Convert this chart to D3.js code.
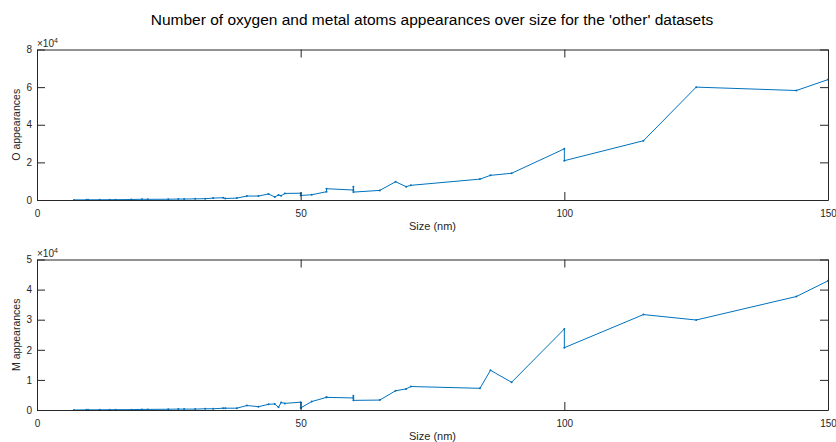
<!DOCTYPE html>
<html>
<head>
<meta charset="utf-8">
<script src="https://cdn.jsdelivr.net/npm/d3@7"></script>
<style>
  html, body { margin: 0; padding: 0; background: #fff; }
  svg { display: block; font-family: "Liberation Sans", Arial, Helvetica, sans-serif; }
</style>
</head>
<body>
<svg id="chart" width="836" height="442"></svg>
<script>
// Particle sizes (nm) of the 'other' datasets, in plotting order
const sizes = [7, 9.4, 9.7, 11.9, 13.8, 14.9, 17.9, 19.9, 21, 24.9, 26.8, 27.9, 30, 31.9, 33.4,
  35.3, 35.7, 37.9, 39.8, 42, 43.9, 45.1, 45.8, 46.3, 47, 50, 50, 52.1, 54.9, 54.9, 60, 60, 60,
  65, 68, 70, 70.9, 84, 86, 90, 100, 100, 115, 125, 144, 150];

// Oxygen atom appearances (x 10^4)
const oxygen = [0.005, 0.008, 0.01, 0.012, 0.015, 0.018, 0.025, 0.04, 0.035, 0.04, 0.05, 0.05,
  0.06, 0.07, 0.1, 0.12, 0.08, 0.1, 0.21, 0.21, 0.32, 0.16, 0.27, 0.22, 0.35, 0.36, 0.24, 0.28,
  0.44, 0.6, 0.53, 0.71, 0.42, 0.51, 0.97, 0.71, 0.78, 1.11, 1.31, 1.42, 2.72, 2.09, 3.15,
  6.0, 5.82, 6.4];

// Metal atom appearances (x 10^4)
const metal = [0, 0.005, 0.005, 0.007, 0.008, 0.01, 0.012, 0.02, 0.02, 0.025, 0.03, 0.03,
  0.03, 0.04, 0.04, 0.06, 0.06, 0.06, 0.15, 0.11, 0.19, 0.2, 0.09, 0.25, 0.22, 0.26, 0.07, 0.28,
  0.42, 0.42, 0.4, 0.47, 0.32, 0.33, 0.64, 0.70, 0.78, 0.72, 1.32, 0.92, 2.69, 2.07, 3.17,
  2.99, 3.77, 4.29];

const xTicks = [0, 50, 100, 150];
const oTicks = [0, 2, 4, 6, 8];
const mTicks = [0, 1, 2, 3, 4, 5];

const titleText = "Number of oxygen and metal atoms appearances over size for the 'other' datasets";
const xLabel = "Size (nm)";

const svg = d3.select("#chart");
const ink = "#262626";
const lineColor = "#0072BD";
const tickLen = 8;

svg.append("text")
  .attr("x", 432).attr("y", 25)
  .attr("text-anchor", "middle")
  .attr("font-size", 15.5)
  .attr("fill", "#000")
  .text(titleText);

function panel(values, yMax, yTicks, yLabel, top, bottom) {
  const left = 37, right = 828;
  const x = d3.scaleLinear().domain([0, 150]).range([left, right]);
  const y = d3.scaleLinear().domain([0, yMax]).range([bottom, top]);
  const g = svg.append("g");

  // data line with small point markers
  const pts = sizes.map((s, i) => [s, values[i]]);
  const line = d3.line().x(d => x(d[0])).y(d => y(d[1]));
  g.append("path")
    .datum(pts)
    .attr("d", line)
    .attr("fill", "none")
    .attr("stroke", lineColor)
    .attr("stroke-width", 1)
    .attr("stroke-linejoin", "round");
  g.selectAll("circle.pt").data(pts).enter().append("circle")
    .attr("class", "pt")
    .attr("cx", d => x(d[0])).attr("cy", d => y(d[1]))
    .attr("r", 1)
    .attr("fill", lineColor);

  // axes: bottom and left carry labels, top and right mirror the ticks
  const style = sel => {
    sel.select(".domain").attr("stroke", ink);
    sel.selectAll(".tick line").attr("stroke", ink);
    sel.selectAll(".tick text").attr("fill", ink).attr("font-size", 10)
      .attr("font-family", "Liberation Sans, Arial, sans-serif");
  };
  g.append("g").attr("transform", `translate(0,${bottom})`)
    .call(d3.axisBottom(x).tickValues(xTicks).tickFormat(d3.format("d"))
      .tickSizeInner(-tickLen).tickSizeOuter(0))
    .call(style)
    .call(a => a.selectAll(".tick text").attr("y", 10));
  g.append("g").attr("transform", `translate(0,${top})`)
    .call(d3.axisTop(x).tickValues(xTicks).tickFormat(() => "")
      .tickSizeInner(-tickLen).tickSizeOuter(0))
    .call(style);
  g.append("g").attr("transform", `translate(${left},0)`)
    .call(d3.axisLeft(y).tickValues(yTicks).tickFormat(d3.format("d"))
      .tickSizeInner(-tickLen).tickSizeOuter(0))
    .call(style)
    .call(a => a.selectAll(".tick text").attr("x", -5).attr("text-anchor", "end"));
  g.append("g").attr("transform", `translate(${right},0)`)
    .call(d3.axisRight(y).tickValues(yTicks).tickFormat(() => "")
      .tickSizeInner(-tickLen).tickSizeOuter(0))
    .call(style);

  // exponent marker
  const ex = g.append("text")
    .attr("x", left).attr("y", top - 3)
    .attr("font-size", 10).attr("fill", ink);
  ex.append("tspan").text("\u00d710");
  ex.append("tspan").attr("font-size", 7).attr("dy", -4).text("4");

  // axis titles
  g.append("text")
    .attr("x", (left + right) / 2).attr("y", bottom + 30)
    .attr("text-anchor", "middle")
    .attr("font-size", 11).attr("fill", ink)
    .text(xLabel);
  g.append("text")
    .attr("transform", `translate(20,${(top + bottom) / 2}) rotate(-90)`)
    .attr("text-anchor", "middle")
    .attr("font-size", 10.5).attr("fill", ink)
    .text(yLabel);
}

panel(oxygen, 8, oTicks, "O appearances", 49.5, 200);
panel(metal, 5, mTicks, "M appearances", 259.5, 410);
</script>
</body>
</html>
